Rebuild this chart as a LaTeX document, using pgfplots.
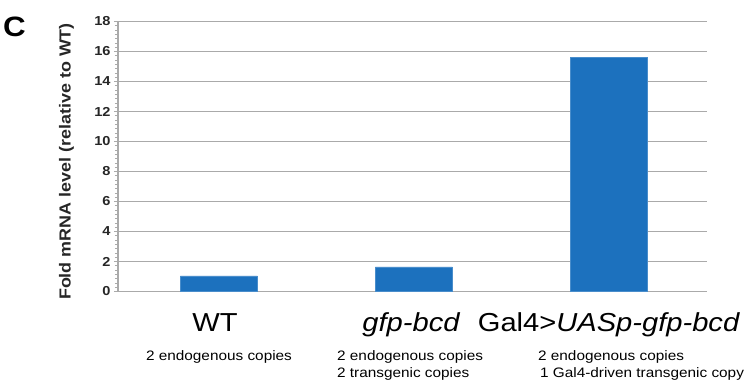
\documentclass[border=0pt]{standalone}
\usepackage{fontspec}
\setmainfont[FakeStretch=1.12]{Liberation Sans}
\usepackage{pgfplots}
\pgfplotsset{compat=1.18}
\definecolor{barblue}{RGB}{28,113,190}
\definecolor{gridgray}{RGB}{170,170,170}
\begin{document}
\begin{tikzpicture}
\useasboundingbox (-118bp,-93.5bp) rectangle (629bp,291.5bp);
\begin{axis}[
  at={(0,0)}, anchor=south west,
  scale only axis,
  width=589bp, height=270bp,
  xmin=-0.518, xmax=2.503,
  ymin=0, ymax=18,
  ytick={0,2,...,18},
  minor y tick num=6,
  xtick=\empty,
  axis x line*=bottom,
  axis y line*=left,
  axis line style={gridgray, line width=1.1bp, -},
  ymajorgrids,
  major grid style={gridgray, line width=1.2bp},
  tick align=outside,
  major tick length=4bp,
  minor tick length=3bp,
  tick style={gridgray, line width=0.8bp},
  /pgf/number format/assume math mode=true,
  yticklabel style={font=\fontsize{13bp}{15bp}\selectfont\bfseries, text=black!85},
  clip=false,
]
\addplot[ybar, bar width=77bp, fill=barblue, draw=barblue!80!white, line width=0.5bp]
  coordinates {(0,1.05) (1,1.65) (2,15.6)};

\node[anchor=base, font=\fontsize{26bp}{28bp}\selectfont] at ([xshift=-4bp,yshift=-39.5bp]axis cs:0,0) {WT};
\node[anchor=base, font=\fontsize{26bp}{28bp}\selectfont] at ([xshift=-3bp,yshift=-39.5bp]axis cs:1,0) {\itshape gfp-bcd};
\node[anchor=base, font=\fontsize{26bp}{28bp}\selectfont] at ([yshift=-39.5bp]axis cs:2,0) {Gal4>\textit{UASp-gfp-bcd}};

\node[anchor=base, inner sep=0pt, font=\fontsize{13.7bp}{17bp}\selectfont] at ([yshift=-68.5bp]axis cs:0,0) {2 endogenous copies};
\node[anchor=base west, inner sep=0pt, font=\fontsize{13.7bp}{17bp}\selectfont] at ([xshift=-77bp,yshift=-68.5bp]axis cs:1,0) {2 endogenous copies};
\node[anchor=base west, inner sep=0pt, font=\fontsize{13.7bp}{17bp}\selectfont] at ([xshift=-77bp,yshift=-85.5bp]axis cs:1,0) {2 transgenic copies};
\node[anchor=base west, inner sep=0pt, font=\fontsize{13.7bp}{17bp}\selectfont] at ([xshift=-71bp,yshift=-68.5bp]axis cs:2,0) {2 endogenous copies};
\node[anchor=base west, inner sep=0pt, font=\fontsize{13.7bp}{17bp}\selectfont] at ([xshift=-69bp,yshift=-85.5bp]axis cs:2,0) {1 Gal4-driven transgenic copy};
\end{axis}
\node[rotate=90, font=\fontsize{16bp}{18bp}\selectfont\bfseries, text=black!85] at (-51.5bp,130bp) {Fold mRNA level (relative to WT)};
\node[anchor=base west, inner sep=0pt, font=\fontsize{28bp}{30bp}\selectfont\bfseries] at (-115bp,254.5bp) {C};
\end{tikzpicture}
\end{document}
